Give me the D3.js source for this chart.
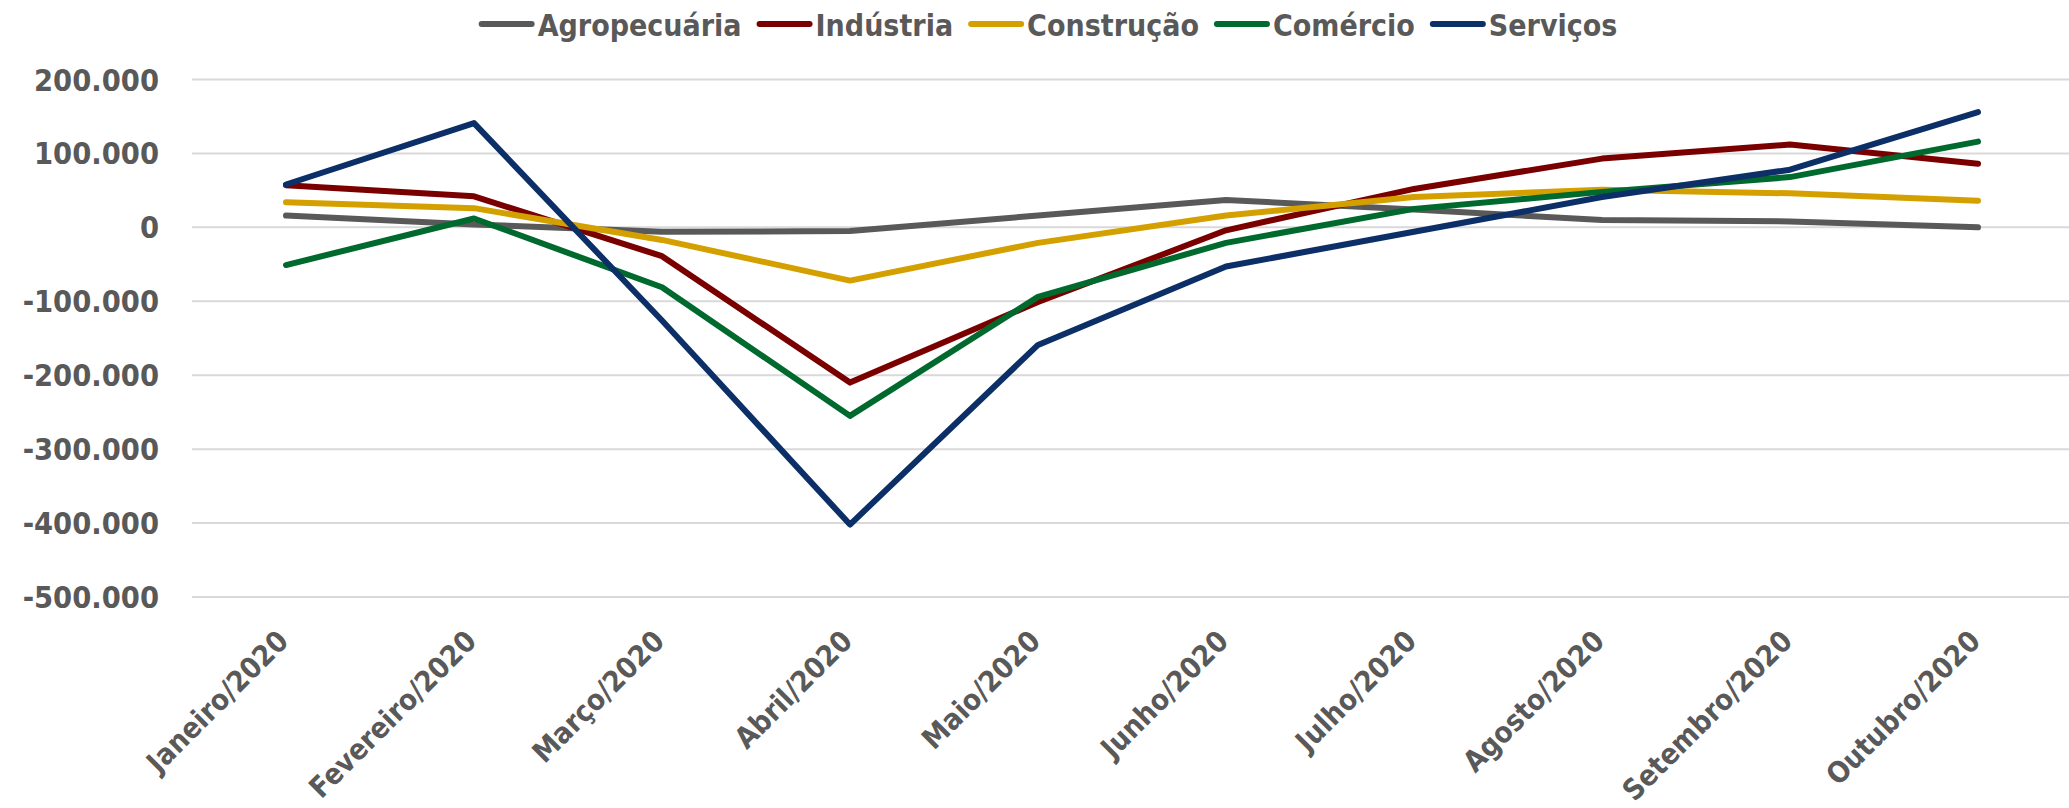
<!DOCTYPE html>
<html>
<head>
<meta charset="utf-8">
<script src="https://cdn.jsdelivr.net/npm/d3@7"></script>
<style>
    body { margin: 0; background: #ffffff; }
    #content { width: 2069px; height: 808px; }
    text {
        font-family: "DejaVu Sans Condensed", "DejaVu Sans", sans-serif;
        font-stretch: condensed;
        font-weight: bold;
        fill: #595959;
    }
</style>
</head>
<body>
<div id="content"></div>
<script>
const width = 2069;
const height = 808;

const months = ['Janeiro/2020', 'Fevereiro/2020', 'Março/2020', 'Abril/2020', 'Maio/2020',
    'Junho/2020', 'Julho/2020', 'Agosto/2020', 'Setembro/2020', 'Outubro/2020'];

const agropecuaria = [16000, 4000, -6000, -5000, 16000, 37000, 24000, 10000, 8000, 0];
const industria = [57000, 42000, -39000, -210000, -101000, -4000, 52000, 93000, 112000, 86000];
const construcao = [34000, 26000, -17000, -72000, -21000, 16000, 41000, 51000, 46000, 36000];
const comercio = [-51000, 12000, -81000, -255000, -94000, -21000, 25000, 48000, 68000, 116000];
const servicos = [58000, 141000, -126000, -402000, -159000, -53000, -6000, 41000, 78000, 156000];

const yTicks = [200000, 100000, 0, -100000, -200000, -300000, -400000, -500000];

const series = [
    {name: 'Agropecuária', values: agropecuaria, color: '#595959'},
    {name: 'Indústria', values: industria, color: '#7a0000'},
    {name: 'Construção', values: construcao, color: '#d4a000'},
    {name: 'Comércio', values: comercio, color: '#006a2e'},
    {name: 'Serviços', values: servicos, color: '#0b2f66'}
];

const fmt = (v) => d3.format(',')(v).replace(/,/g, '.').replace('−', '-');

const fig = d3.select('#content')
    .append('svg')
    .attr('width', width)
    .attr('height', height);

const x = d3.scalePoint()
    .domain(months)
    .range([192, 2072])
    .padding(0.5);

const y = d3.scaleLinear()
    .domain([-500000, 200000])
    .range([597, 79.5]);

// gridlines
fig.append('g')
    .selectAll('line')
    .data(yTicks)
    .join('line')
    .attr('x1', 192)
    .attr('x2', width)
    .attr('y1', (d) => y(d))
    .attr('y2', (d) => y(d))
    .attr('stroke', '#d9d9d9')
    .attr('stroke-width', 2);

// y labels
fig.append('g')
    .selectAll('text')
    .data(yTicks)
    .join('text')
    .attr('x', 159)
    .attr('y', (d) => y(d) + 11)
    .attr('text-anchor', 'end')
    .style('font-size', '30.5px')
    .text((d) => fmt(d));

// x labels
fig.append('g')
    .selectAll('text')
    .data(months)
    .join('text')
    .attr('text-anchor', 'end')
    .attr('transform', (d) => `translate(${x(d) + 4},643) rotate(-45)`)
    .style('font-size', '29px')
    .text((d) => d);

const line = d3.line()
    .x((d, i) => x(months[i]))
    .y((d) => y(d));

fig.append('g')
    .selectAll('path')
    .data(series)
    .join('path')
    .attr('d', (d) => line(d.values))
    .attr('fill', 'none')
    .attr('stroke', (d) => d.color)
    .attr('stroke-width', 6)
    .attr('stroke-linejoin', 'round')
    .attr('stroke-linecap', 'round');

// legend
const legend = fig.append('g');
const lineLen = 56;
let lx = 0;
series.forEach((s) => {
    const item = legend.append('g').attr('transform', `translate(${lx},0)`);
    item.append('line')
        .attr('x1', 3)
        .attr('x2', lineLen - 3)
        .attr('y1', 24)
        .attr('y2', 24)
        .attr('stroke', s.color)
        .attr('stroke-width', 6)
        .attr('stroke-linecap', 'round');
    const t = item.append('text')
        .attr('x', lineLen + 3)
        .attr('y', 35.5)
        .style('font-size', '30px')
        .text(s.name);
    lx += lineLen + 3 + t.node().getComputedTextLength() + 15;
});
const legendW = lx - 15;
legend.attr('transform', `translate(${1048 - legendW / 2},0)`);
</script>
</body>
</html>
